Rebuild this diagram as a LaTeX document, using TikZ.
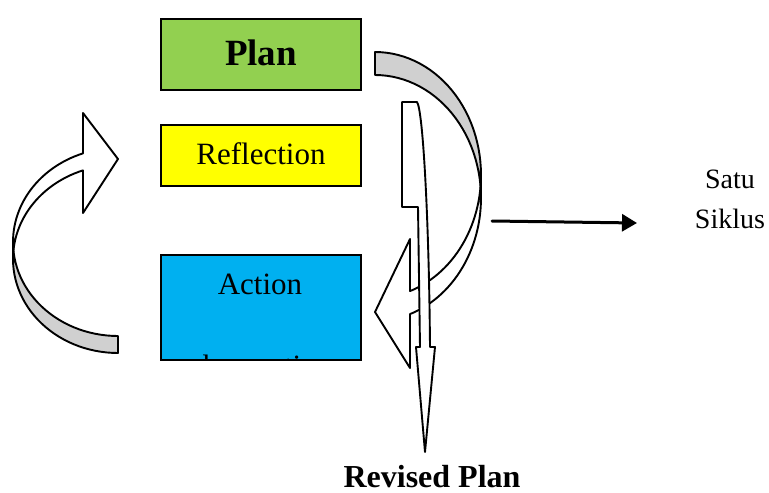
\documentclass[tikz,border=0pt]{standalone}
\usepackage{fontspec}
\setmainfont{Liberation Serif}
\usepackage{xcolor}
\usetikzlibrary{arrows.meta}
\definecolor{plangreen}{HTML}{92D050}
\definecolor{reflyellow}{HTML}{FFFF00}
\definecolor{actblue}{HTML}{00B0F0}
\definecolor{backgray}{HTML}{D0D0D0}
\tikzset{
  box/.style={draw=black, line width=2.4pt, minimum width=200pt, inner sep=0pt, outer sep=0pt, text depth=4pt},
  ribbon/.style={draw=black, fill=white, line width=1.9pt, line join=round},
  backside/.style={draw=black, fill=backgray, line width=1.9pt, line join=round},
  lab/.style={text=black, inner sep=0pt, font=\fontsize{31}{36}\selectfont},
  bigB/.style={text=black, font=\bfseries\fontsize{37}{42}\selectfont},
  headB/.style={text=black, inner sep=0pt, font=\bfseries\fontsize{32}{38}\selectfont},
  note/.style={text=black, inner sep=0pt, font=\fontsize{28}{32}\selectfont},
  cyc/.style={draw=black, line width=3pt, -{Triangle[length=15pt,width=17pt]}}
}

\begin{document}
\begin{tikzpicture}[x=1pt, y=-1pt, line cap=round]
  \useasboundingbox (0,0) rectangle (769,493);
  % boxes
  \node[box, fill=plangreen, minimum height=71pt, bigB] (plan) at (261,54.5) {Plan};
  \node[box, fill=reflyellow, minimum height=61pt, lab] (refl) at (261,155.5) {Reflection};
  \node[box, fill=actblue, minimum height=105pt] (act) at (261,307.5) {};
  \begin{scope}
    \clip (act.south west) rectangle (act.north east);
    \node[lab, anchor=base] (actT) at (260,294) {Action};
    \node[lab, anchor=base] (obsT) at (260,376) {observation};
  \end{scope}
  \draw[line width=2.4pt] (act.south west) rectangle (act.north east);
  % left curved arrow
  \draw[backside] plot[domain=180:90, samples=30, variable=\t] ({118+105*cos(\t)},{242+94*sin(\t)})
    -- plot[domain=90:180, samples=30, variable=\t] ({118+105*cos(\t)},{259+94*sin(\t)}) -- cycle;
  \draw[ribbon] plot[domain=250.5:180, samples=30, variable=\t] ({118+105*cos(\t)},{242+94*sin(\t)})
    -- plot[domain=180:250.5, samples=30, variable=\t] ({118+105*cos(\t)},{259+94*sin(\t)})
    -- (83,213) -- (118,159) -- (83,113) -- cycle;
  % right curved arrow
  \draw[backside] plot[domain=-90:0, samples=30, variable=\t] ({375+106*cos(\t)},{175+123*sin(\t)})
    -- plot[domain=0:-90, samples=30, variable=\t] ({375+106*cos(\t)},{198+123*sin(\t)}) -- cycle;
  \draw[ribbon] plot[domain=0:70.7, samples=30, variable=\t] ({375+106*cos(\t)},{175+123*sin(\t)})
    -- (410,239) -- (375,312) -- (410,368)
    -- plot[domain=70.7:0, samples=30, variable=\t] ({375+106*cos(\t)},{198+123*sin(\t)}) -- cycle;
  % down arrow
  \draw[ribbon] (402,102) -- (417,102) .. controls (423,110) and (429,220) .. (430,347)
    -- (435,347) -- (425,452) -- (416,347) -- (420,347) -- (418,207) -- (402,207) -- cycle;
  % one cycle
  \coordinate (cycA) at (492,221);
  \coordinate (cycB) at (637,223);
  \draw[cyc] (cycA) -- (cycB);
  \node[note, anchor=base] (satu) at (730,188) {Satu};
  \node[note, anchor=base] (siklus) at (730,228) {Siklus};
  \node[headB, anchor=base] (revised) at (432,487) {Revised Plan};
\end{tikzpicture}
\end{document}
